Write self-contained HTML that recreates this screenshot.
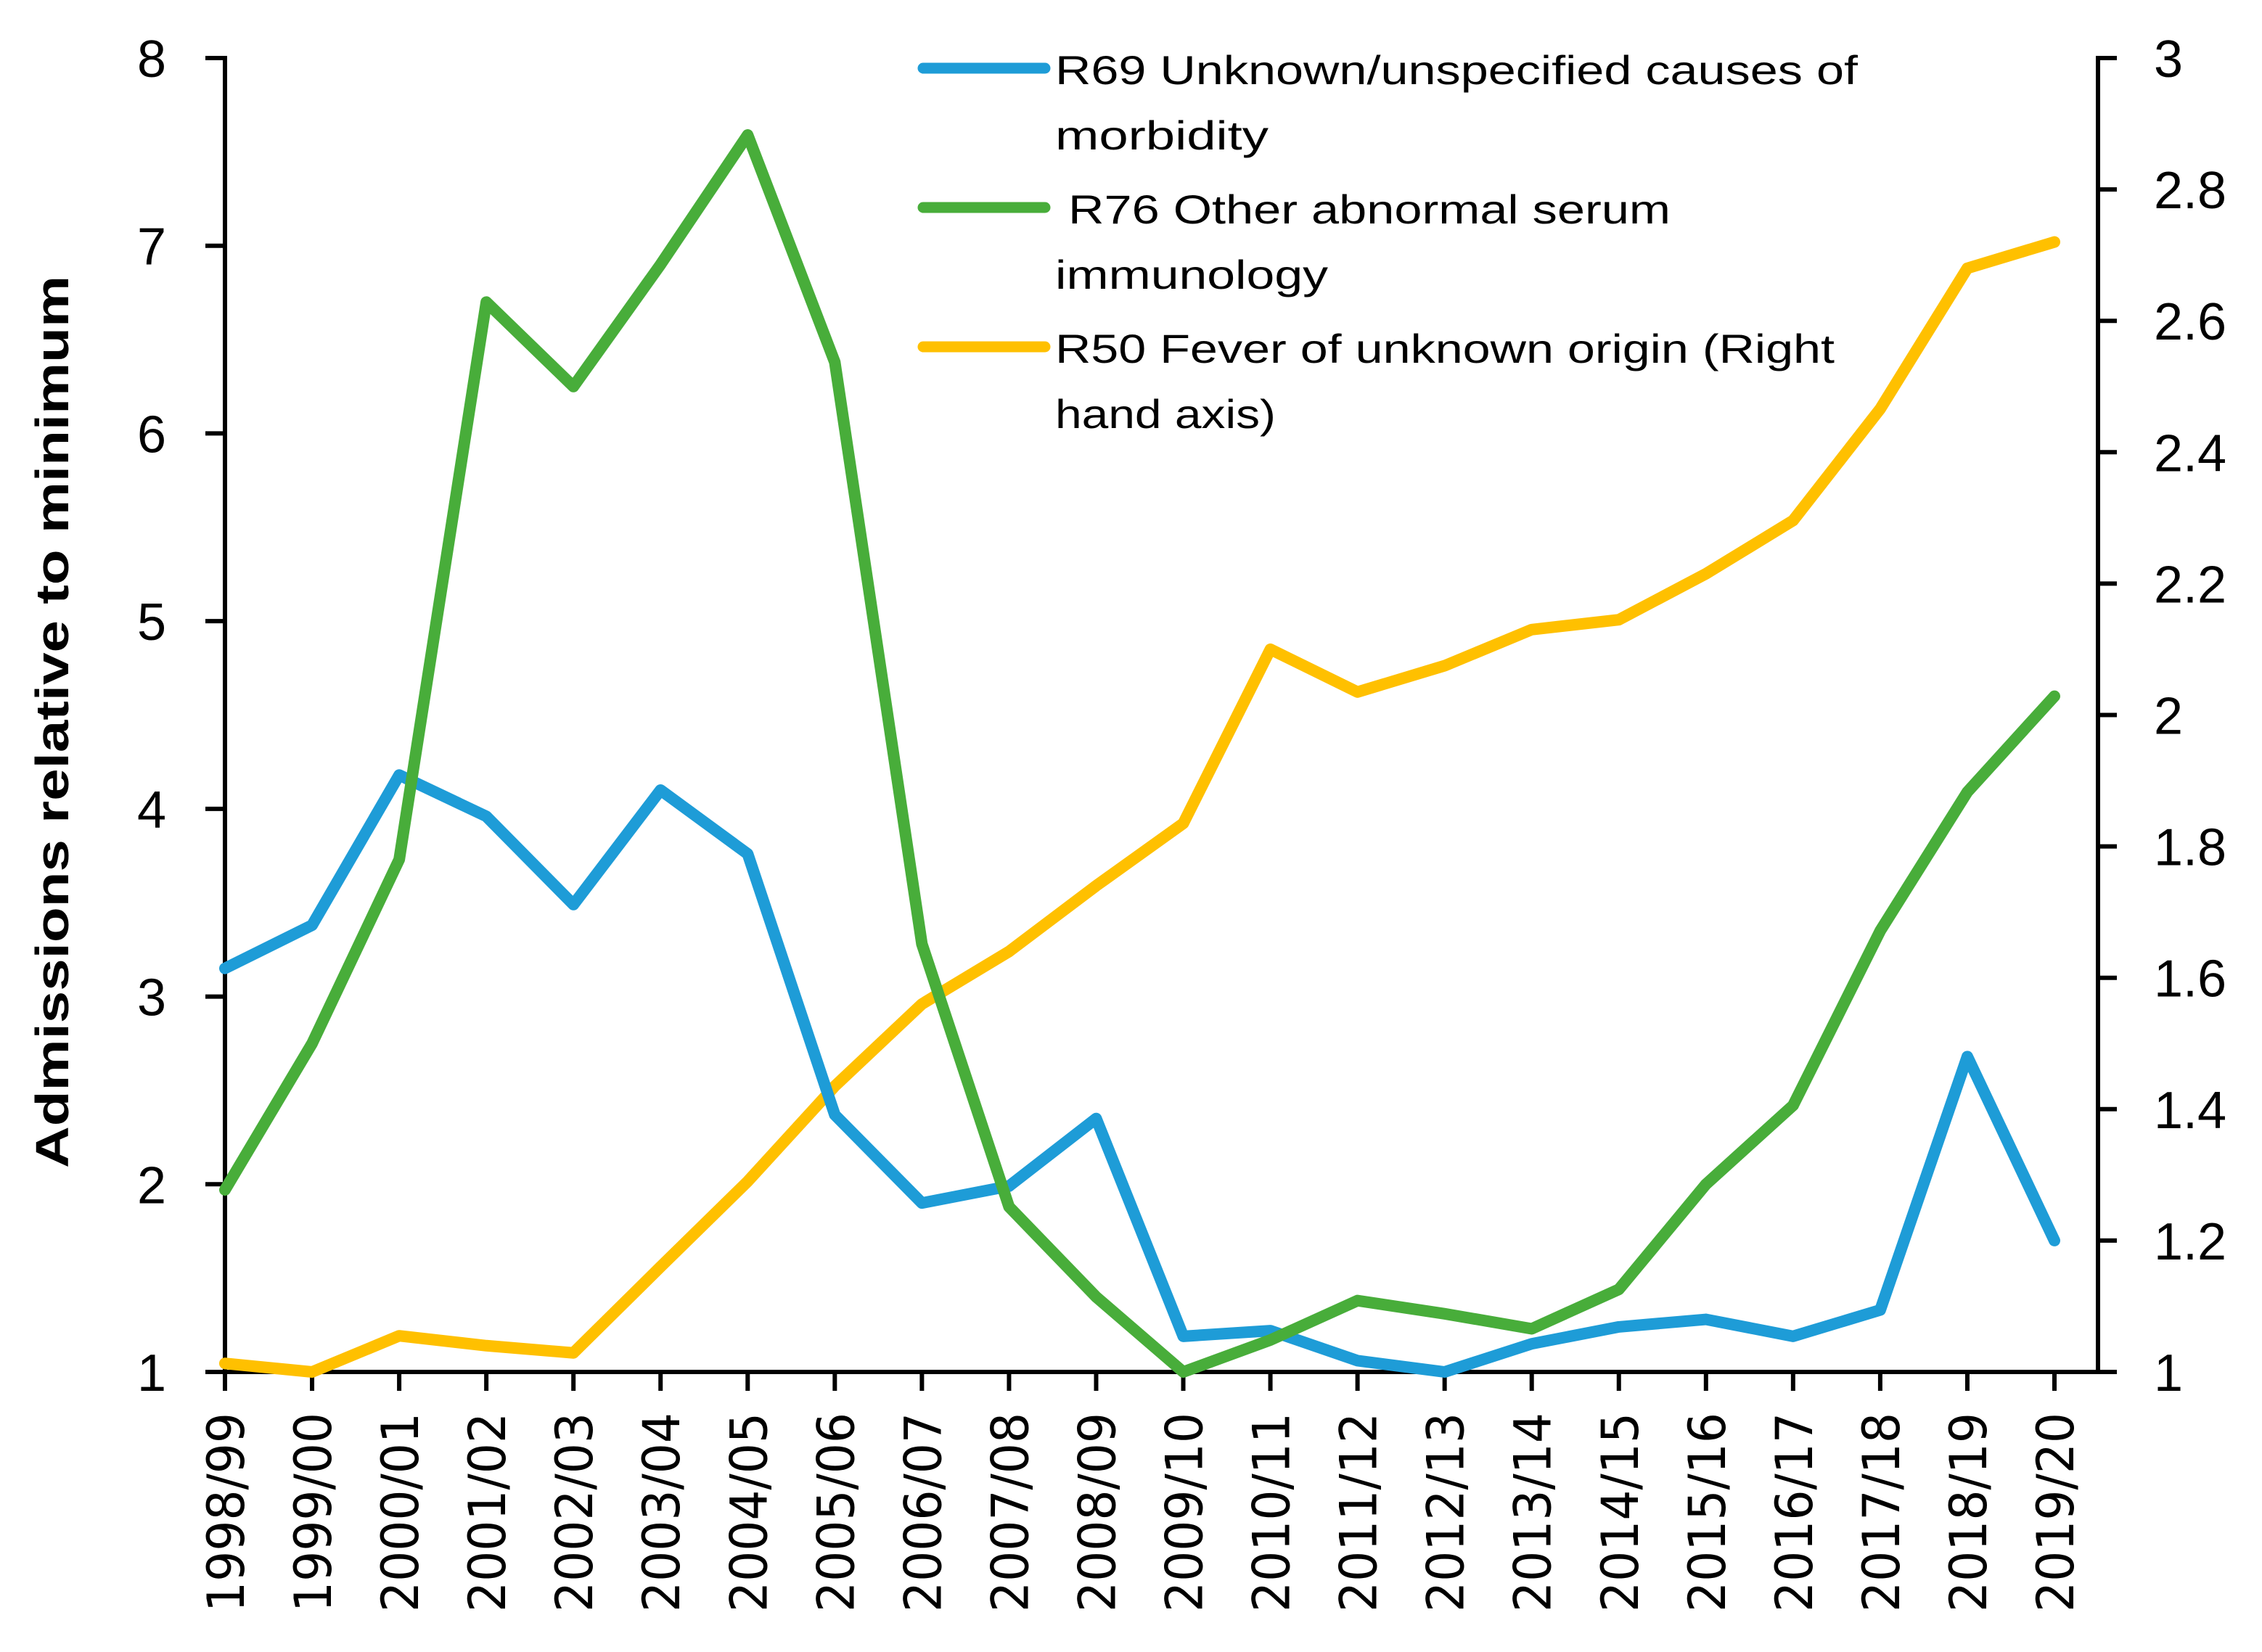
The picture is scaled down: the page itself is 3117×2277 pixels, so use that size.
<!DOCTYPE html>
<html><head><meta charset="utf-8"><style>html,body{margin:0;padding:0;background:#fff}svg{display:block}</style></head>
<body>
<svg id="chart" width="3117" height="2277" viewBox="0 0 3117 2277" xmlns="http://www.w3.org/2000/svg">
<g id="axes"></g><g id="series"></g>
<g font-family="Liberation Sans, sans-serif" font-size="56" fill="#000">
 <g>
  <line x1="1272" y1="94" x2="1440" y2="94" stroke="#1e9cd7" stroke-width="15" stroke-linecap="round"/>
  <text x="1454" y="116" textLength="1106" lengthAdjust="spacingAndGlyphs">R69 Unknown/unspecified causes of</text>
  <text x="1454" y="206" textLength="294" lengthAdjust="spacingAndGlyphs">morbidity</text>
 </g>
 <g>
  <line x1="1272" y1="286" x2="1440" y2="286" stroke="#48ad3a" stroke-width="15" stroke-linecap="round"/>
  <text x="1472" y="308" textLength="830" lengthAdjust="spacingAndGlyphs">R76 Other abnormal serum</text>
  <text x="1454" y="398" textLength="376" lengthAdjust="spacingAndGlyphs">immunology</text>
 </g>
 <g>
  <line x1="1272" y1="478" x2="1440" y2="478" stroke="#ffc000" stroke-width="15" stroke-linecap="round"/>
  <text x="1454" y="500" textLength="1074" lengthAdjust="spacingAndGlyphs">R50 Fever of unknown origin (Right</text>
  <text x="1454" y="590" textLength="304" lengthAdjust="spacingAndGlyphs">hand axis)</text>
 </g>
</g>
<text transform="translate(94,995) rotate(-90)" text-anchor="middle" font-family="Liberation Sans, sans-serif" font-weight="bold" font-size="64" textLength="1230" lengthAdjust="spacingAndGlyphs">Admissions relative to minimum</text>
</svg>
<script>
const categories=["1998/99","1999/00","2000/01","2001/02","2002/03","2003/04","2004/05","2005/06","2006/07","2007/08","2008/09","2009/10","2010/11","2011/12","2012/13","2013/14","2014/15","2015/16","2016/17","2017/18","2018/19","2019/20"];
const r69Values=[3.15,3.38,4.18,3.96,3.49,4.10,3.76,2.37,1.90,1.99,2.35,1.19,1.22,1.06,1.00,1.15,1.24,1.28,1.19,1.33,2.68,1.70];
const r76Values=[1.97,2.75,3.73,6.70,6.25,6.90,7.59,6.38,3.28,1.88,1.40,1.00,1.17,1.38,1.31,1.23,1.44,2.00,2.42,3.35,4.09,4.60];
const r50Values=[1.013,1.0,1.055,1.04,1.029,1.16,1.29,1.435,1.56,1.64,1.74,1.835,2.10,2.035,2.075,2.13,2.145,2.215,2.296,2.466,2.68,2.72];
const leftTicks=[1,2,3,4,5,6,7,8];
const rightTicks=["1","1.2","1.4","1.6","1.8","2","2.2","2.4","2.6","2.8","3"];

const NS="http://www.w3.org/2000/svg";
const X0=310,X1=2831,YT=80,YB=1891,XR=2891;
const xS=i=>X0+(X1-X0)*i/(categories.length-1);
const yL=v=>YB-(v-1)/7*(YB-YT);
const yR=v=>YB-(v-1)/2*(YB-YT);
function mk(tag,attrs,parent){const e=document.createElementNS(NS,tag);for(const k in attrs)e.setAttribute(k,attrs[k]);parent.appendChild(e);return e;}
const axes=document.getElementById('axes'),series=document.getElementById('series');
let e;
e=mk('line',{x1:X0,y1:YT-3,x2:X0,y2:YB,stroke:'#000','stroke-width':6},axes);


e=mk('line',{x1:XR,y1:YT-3,x2:XR,y2:YB,stroke:'#000','stroke-width':6},axes);


e=mk('line',{x1:X0-27,y1:YB,x2:XR+26,y2:YB,stroke:'#000','stroke-width':6},axes);


leftTicks.forEach(v=>{
 const y=yL(v);
 mk('line',{x1:X0-27,y1:y,x2:X0,y2:y,stroke:'#000','stroke-width':6},axes);
 const t=mk('text',{x:229,y:y+26,'text-anchor':'end','font-family':'Liberation Sans, sans-serif','font-size':72},axes);
 t.textContent=v;
 
 
});
rightTicks.forEach(s=>{
 const y=yR(parseFloat(s));
 mk('line',{x1:XR,y1:y,x2:XR+26,y2:y,stroke:'#000','stroke-width':6},axes);
 const t=mk('text',{x:2968,y:y+26,'font-family':'Liberation Sans, sans-serif','font-size':72},axes);
 t.textContent=s;
 
 
});
categories.forEach((c,i)=>{
 const x=xS(i);
 mk('line',{x1:x,y1:YB,x2:x,y2:YB+26,stroke:'#000','stroke-width':6},axes);
 const t=mk('text',{transform:`translate(${x+26},1947) rotate(-90)`,'text-anchor':'end','font-family':'DejaVu Sans, sans-serif','font-size':70,textLength:275,lengthAdjust:'spacingAndGlyphs'},axes);
 t.textContent=c;
 
 
});
function line(vals,scale,color,name){
 const p=mk('polyline',{points:vals.map((v,i)=>xS(i)+','+scale(v)).join(' '),fill:'none',stroke:color,'stroke-width':16,'stroke-linejoin':'round','stroke-linecap':'round'},series);
 
 
}
line(r50Values,yR,'#ffc000','r50-line');
line(r69Values,yL,'#1e9cd7','r69-line');
line(r76Values,yL,'#48ad3a','r76-line');
</script>
</body></html>
